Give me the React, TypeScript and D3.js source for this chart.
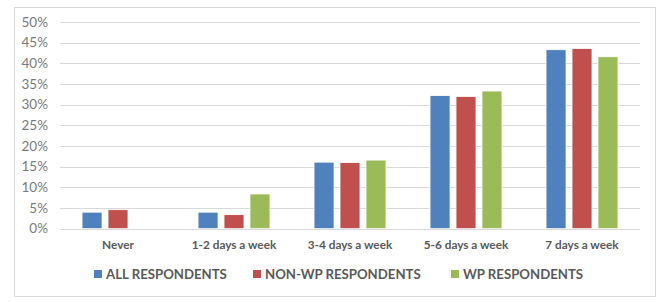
import React from "react";
import * as d3 from "d3";

const categories = ["Never", "1-2 days a week", "3-4 days a week", "5-6 days a week", "7 days a week"];
const seriesNames = ["ALL RESPONDENTS", "NON-WP RESPONDENTS", "WP RESPONDENTS"];
const allRespondents = [4.0, 4.0, 16.1, 32.2, 43.3];
const nonWpRespondents = [4.6, 3.4, 16.0, 32.0, 43.6];
const wpRespondents = [0, 8.4, 16.6, 33.3, 41.6];
const yTicks = [0, 5, 10, 15, 20, 25, 30, 35, 40, 45, 50];
const colors = ["#4F81BD", "#C0504D", "#9BBB59"];

const seriesValues = [allRespondents, nonWpRespondents, wpRespondents];

export default function App() {
  const W = 669, H = 302;
  const left = 60, right = 640, top = 22, bottom = 228.7;
  const x0 = d3.scaleBand<string>().domain(categories).range([left, right]).paddingInner(0.38).paddingOuter(0.19);
  const x1 = d3.scaleBand<string>().domain(seriesNames).range([0, x0.bandwidth()]).paddingInner(0.23).paddingOuter(0);
  const y = d3.scaleLinear().domain([0, 50]).range([bottom, top]);
  const font = "Lato, 'Open Sans', sans-serif";
  const legendX = [94, 253, 451];
  return (
    <svg width={W} height={H} style={{ position: "absolute", left: 0, top: 0 }} fontFamily={font}>
      <rect x={0} y={0} width={W} height={H} fill="#fff" />
      <rect x={14.5} y={7.5} width={641} height={289} fill="#fff" stroke="#d9d9d9" strokeWidth={1} />
      {yTicks.map((t) => (
        <g key={t}>
          <line x1={left} x2={right} y1={Math.round(y(t)) + 0.5} y2={Math.round(y(t)) + 0.5} stroke="#d9d9d9" strokeWidth={1} />
          <text x={48} y={y(t)} dy="0.35em" textAnchor="end" fontSize={13.5} fill="#7a7a7a">{t}%</text>
        </g>
      ))}
      {categories.map((c, i) => (
        <g key={c} transform={`translate(${x0(c)},0)`}>
          {seriesNames.map((s, j) => {
            const v = seriesValues[j][i];
            if (!v) return null;
            return (
              <rect key={s} x={x1(s)} y={y(v)} width={x1.bandwidth()} height={bottom - y(v)} fill={colors[j]} stroke="#fff" strokeWidth={0.8} />
            );
          })}
          <text x={x0.bandwidth() / 2} y={245} dy="0.35em" textAnchor="middle" fontSize={11.8} fontWeight="bold" fill="#595959">{c}</text>
        </g>
      ))}
      {seriesNames.map((s, j) => (
        <g key={s}>
          <rect x={legendX[j]} y={270} width={8} height={8} fill={colors[j]} />
          <text x={legendX[j] + 12} y={274.5} dy="0.35em" fontSize={13.2} fontWeight="bold" fill="#595959">{s}</text>
        </g>
      ))}
    </svg>
  );
}
